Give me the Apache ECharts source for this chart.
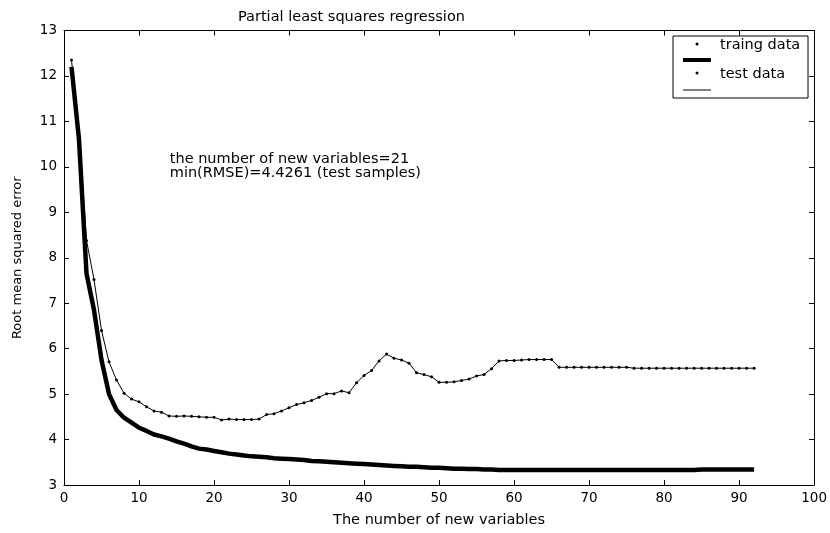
<!DOCTYPE html>
<html>
<head>
<meta charset="utf-8">
<script src="https://cdn.jsdelivr.net/npm/echarts@6/dist/echarts.min.js"></script>
<style>
html,body{margin:0;padding:0;background:#fff;}
#chart{width:830px;height:533px;}
</style>
</head>
<body>
<div id="chart"></div>
<script>
// ---- data ----
var xValues = [];
for (var i = 1; i <= 92; i++) xValues.push(i);

var trainRMSE = [12.2,10.6,7.65,6.85,5.75,5.0,4.65,4.48,4.37,4.26,
  4.19,4.11,4.07,4.02,3.96,3.91,3.85,3.80,3.78,3.75,
  3.72,3.69,3.67,3.65,3.63,3.62,3.61,3.59,3.58,3.57,
  3.56,3.55,3.53,3.52,3.51,3.50,3.49,3.48,3.47,3.46,
  3.45,3.44,3.43,3.42,3.41,3.40,3.40,3.39,3.38,3.38,
  3.37,3.36,3.36,3.35,3.35,3.34,3.34,3.33,3.33,3.33,
  3.33,3.33,3.33,3.33,3.33,3.33,3.33,3.33,3.33,3.33,
  3.33,3.33,3.33,3.33,3.33,3.33,3.33,3.33,3.33,3.33,
  3.33,3.33,3.33,3.33,3.34,3.34,3.34,3.34,3.34,3.34,
  3.34,3.34];

var testRMSE = [12.35,10.7,8.38,7.52,6.40,5.71,5.31,5.02,4.89,4.83,
  4.72,4.63,4.60,4.52,4.51,4.52,4.51,4.50,4.49,4.49,
  4.43,4.45,4.44,4.44,4.44,4.45,4.55,4.57,4.63,4.70,
  4.77,4.81,4.86,4.93,5.01,5.01,5.07,5.03,5.25,5.41,
  5.52,5.73,5.88,5.79,5.75,5.68,5.47,5.43,5.38,5.26,
  5.26,5.27,5.30,5.33,5.40,5.43,5.56,5.73,5.74,5.74,
  5.75,5.76,5.76,5.76,5.76,5.59,5.59,5.59,5.59,5.59,
  5.59,5.59,5.59,5.59,5.59,5.57,5.57,5.57,5.57,5.57,
  5.57,5.57,5.57,5.57,5.57,5.57,5.57,5.57,5.57,5.57,
  5.57,5.57];

var chartTitle = 'Partial least squares regression';
var xName = 'The number of new variables';
var yName = 'Root mean squared error';
var legendNames = ['traing data', 'test data'];
var noteLines = ['the number of new variables=21', 'min(RMSE)=4.4261 (test samples)'];
var notePos = [[14.1, 10.16], [14.1, 9.87]];

function pairs(xs, ys){ return xs.map(function(x, i){ return [x, ys[i]]; }); }

var FONT = '"DejaVu Sans", Verdana, sans-serif';
var chart = echarts.init(document.getElementById('chart'), null, {renderer:'canvas'});

var tickStyle = {show:true, inside:true, length:5, lineStyle:{color:'#000', width:1}};
var lineStyle = {show:true, onZero:false, lineStyle:{color:'#000', width:1}};

var option = {
  backgroundColor:'#fff',
  animation:false,
  title:{text:chartTitle, left:233, top:5,
    textStyle:{fontFamily:FONT, fontSize:14.5, fontWeight:'normal', color:'#000'}},
  grid:{left:64, right:14, top:30.5, bottom:48, containLabel:false},
  xAxis:[
    {type:'value', min:0, max:100, interval:10, position:'bottom',
     axisLine:lineStyle, axisTick:tickStyle, splitLine:{show:false},
     axisLabel:{color:'#000', fontFamily:FONT, fontSize:13.5, margin:6},
     name:xName, nameLocation:'middle', nameGap:28,
     nameTextStyle:{color:'#000', fontFamily:FONT, fontSize:14.5}},
    {type:'value', min:0, max:100, interval:10, position:'top',
     axisLine:lineStyle, axisTick:tickStyle, splitLine:{show:false},
     axisLabel:{show:false}}
  ],
  yAxis:[
    {type:'value', min:3, max:13, interval:1, position:'left',
     axisLine:lineStyle, axisTick:tickStyle, splitLine:{show:false},
     axisLabel:{color:'#000', fontFamily:FONT, fontSize:13.5, margin:7},
     name:yName, nameLocation:'middle', nameGap:40, nameRotate:90,
     nameTextStyle:{color:'#000', fontFamily:FONT, fontSize:13}},
    {type:'value', min:3, max:13, interval:1, position:'right',
     axisLine:lineStyle, axisTick:tickStyle, splitLine:{show:false},
     axisLabel:{show:false}}
  ],
  series:[
    {name:legendNames[0], type:'line', xAxisIndex:0, yAxisIndex:0,
     data:pairs(xValues, trainRMSE), symbol:'none',
     lineStyle:{color:'#000', width:4.5}, z:2},
    {name:legendNames[1], type:'line', xAxisIndex:0, yAxisIndex:0,
     data:pairs(xValues, testRMSE), symbol:'circle', symbolSize:3, showSymbol:true,
     itemStyle:{color:'#000'}, lineStyle:{color:'#000', width:1}, z:3}
  ]
};
chart.setOption(option);

// annotation text (placed at data coordinates) and MATLAB-style legend
var n1 = chart.convertToPixel({xAxisIndex:0, yAxisIndex:0}, notePos[0]);
var n2 = chart.convertToPixel({xAxisIndex:0, yAxisIndex:0}, notePos[1]);
var lx = 673, ly = 36, lw = 135, lh = 62;
var tfont = '14.5px ' + FONT;
chart.setOption({
  graphic:[
    {type:'text', x:n1[0], y:n1[1], style:{text:noteLines[0], font:tfont, fill:'#000', textVerticalAlign:'middle'}},
    {type:'text', x:n2[0], y:n2[1], style:{text:noteLines[1], font:tfont, fill:'#000', textVerticalAlign:'middle'}},
    {type:'rect', shape:{x:lx, y:ly, width:lw, height:lh}, style:{fill:'#fff', stroke:'#000', lineWidth:1}, z:10},
    {type:'circle', shape:{cx:lx+24, cy:ly+8, r:1.5}, style:{fill:'#000'}, z:11},
    {type:'text', x:lx+47, y:ly+9, style:{text:legendNames[0], font:tfont, fill:'#000', textVerticalAlign:'middle'}, z:11},
    {type:'line', shape:{x1:lx+10, y1:ly+24, x2:lx+38, y2:ly+24}, style:{stroke:'#000', lineWidth:4}, z:11},
    {type:'circle', shape:{cx:lx+24, cy:ly+37, r:1.5}, style:{fill:'#000'}, z:11},
    {type:'text', x:lx+47, y:ly+38, style:{text:legendNames[1], font:tfont, fill:'#000', textVerticalAlign:'middle'}, z:11},
    {type:'line', shape:{x1:lx+10, y1:ly+54, x2:lx+38, y2:ly+54}, style:{stroke:'#000', lineWidth:1}, z:11}
  ]
});
</script>
</body>
</html>
